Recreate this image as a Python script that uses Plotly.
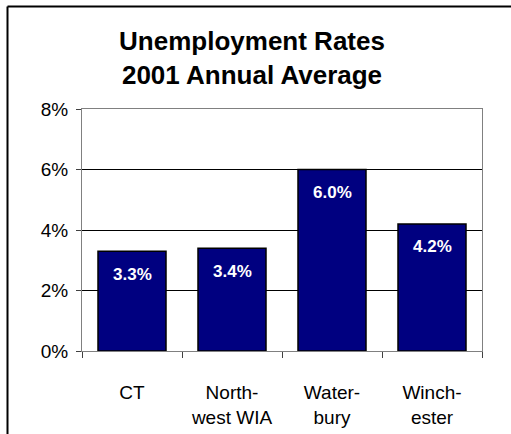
import plotly.graph_objects as go

categories = ["CT", "North-<br>west WIA", "Water-<br>bury", "Winch-<br>ester"]
rates = [0.033, 0.034, 0.060, 0.042]
rate_labels = ["3.3%", "3.4%", "6.0%", "4.2%"]
tick_vals = [0, 0.02, 0.04, 0.06, 0.08]
tick_text = ["0%", "2%", "4%", "6%", "8%"]
title_text = "Unemployment Rates<br>2001 Annual Average"

FONT = "Liberation Sans, Arial, sans-serif"

fig = go.Figure()
fig.add_trace(go.Bar(
    x=categories, y=rates,
    marker=dict(color="#000080", line=dict(color="#000000", width=1.5)),
    hoverinfo="skip",
))

for c, v, t in zip(categories, rates, rate_labels):
    fig.add_annotation(x=c, y=v, text=t, showarrow=False, yshift=-23,
                       font=dict(family=FONT, size=17, color="white", weight="bold"))

W, H = 511, 434
ml, mr, mt, mb = 82, 29, 109, 83
pw, ph = W - ml - mr, H - mt - mb

def px_x(x):
    return (x - ml) / pw

def px_y(y):
    return (H - mb - y) / ph

fig.update_layout(
    width=W, height=H,
    margin=dict(l=ml, r=mr, t=mt, b=mb),
    paper_bgcolor="white", plot_bgcolor="white",
    showlegend=False,
    bargap=0.32,
    title=dict(text=title_text, x=252 / W, xanchor="center", xref="container",
               y=(H - 50) / H, yanchor="top", yref="container",
               font=dict(family=FONT, size=26, color="black", weight="bold")),
    font=dict(family=FONT, color="black"),
    xaxis=dict(type="category", showgrid=False, showline=True, linecolor="#808080",
               linewidth=1, mirror=True, ticks="outside", tickson="boundaries",
               ticklen=6, tickcolor="#404040", tickfont=dict(size=19, family=FONT, color="black"),
               ticklabelstandoff=24, automargin=False),
    yaxis=dict(range=[0, 0.08], tickvals=tick_vals, ticktext=tick_text,
               showgrid=True, gridcolor="#000000", gridwidth=1,
               showline=True, linecolor="#808080", linewidth=1, mirror=True,
               ticks="outside", ticklen=5, tickcolor="#404040",
               tickfont=dict(size=19, family=FONT, color="black"),
               ticklabelstandoff=4, zeroline=False, automargin=False),
    shapes=[
        dict(type="line", xref="paper", yref="paper", x0=px_x(7.5), x1=px_x(520),
             y0=px_y(6.5), y1=px_y(6.5), line=dict(color="black", width=2)),
        dict(type="line", xref="paper", yref="paper", x0=px_x(7.5), x1=px_x(7.5),
             y0=px_y(6.5), y1=px_y(440), line=dict(color="black", width=2)),
    ],
)

fig.write_html("out.html", config={"displayModeBar": False},
               post_script="document.body.style.margin='0';")
